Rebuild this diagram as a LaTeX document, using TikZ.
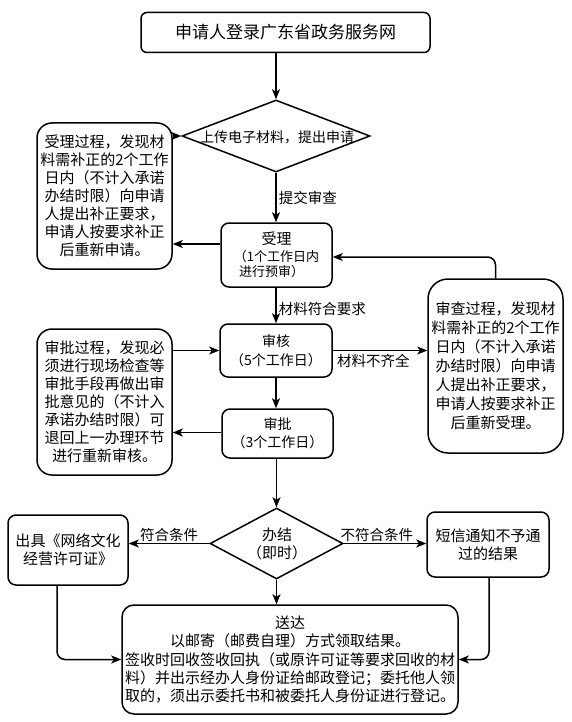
\documentclass[tikz,border=0pt]{standalone}
\usepackage{fontspec}
\setmainfont{Noto Sans CJK SC}
\usetikzlibrary{arrows.meta,shapes.geometric}
\begin{document}
\begin{tikzpicture}[x=1pt,y=-1pt,
  lw/.style={line width=1.5pt},
  box/.style={draw, lw, rounded corners=#1, inner sep=0pt, align=center,
    font=\fontsize{15pt}{18pt}\selectfont},
  box/.default=8pt,
  dia/.style={draw, lw, diamond, inner sep=0pt},
  lbl/.style={font=\fontsize{14.5pt}{17pt}\selectfont, inner sep=2pt},
  arr/.style={lw, -{Stealth[length=10pt,width=8pt,inset=2.5pt]}}]
\useasboundingbox (0,0) rectangle (571,722);

% nodes
\node[box=6pt, minimum width=289pt, minimum height=40pt,
  font=\fontsize{17pt}{20pt}\selectfont] (top) at (285.5,32.5) {申请人登录广东省政务服务网};
\node[dia, minimum width=188pt, minimum height=72pt] (d1) at (276,136) {};
\node[font=\fontsize{14pt}{17pt}\selectfont, inner sep=0pt] (d1t) at (277,137) {上传电子材料，提出申请};

\node[box=15pt, minimum width=135pt, minimum height=146pt] (left1) at (104.5,196)
  {受理过程，发现材\\料需补正的2个工作\\日内（不计入承诺\\办结时限）向申请\\人提出补正要求，\\申请人按要求补正\\后重新申请。};

\node[box, minimum width=111pt, minimum height=64pt] (acc) at (276.5,255)
  {受理\\[-1pt]{\fontsize{13pt}{15pt}\selectfont （1个工作日内}\\[-3pt]{\fontsize{13pt}{15pt}\selectfont 进行预审）\hspace*{10pt}}};

\node[box, minimum width=112pt, minimum height=53pt,
  font=\fontsize{14pt}{19pt}\selectfont] (rev) at (276,350.5) {审核\\（5个工作日）};

\node[box=20pt, minimum width=135pt, minimum height=174pt,
  font=\fontsize{15pt}{19pt}\selectfont] (right1) at (495.5,366)
  {审查过程，发现材\\料需补正的2个工作\\日内（不计入承诺\\办结时限）向申请\\人提出补正要求，\\申请人按要求补正\\后重新受理。};

\node[box=15pt, minimum width=135pt, minimum height=146pt] (left2) at (104.5,402)
  {审批过程，发现必\\须进行现场检查等\\审批手段再做出审\\批意见的（不计入\\承诺办结时限）可\\退回上一办理环节\\进行重新审核。};

\node[box, minimum width=111pt, minimum height=49pt,
  font=\fontsize{14pt}{18pt}\selectfont] (appr) at (277.5,433.5) {审批\\（3个工作日）};

\node[dia, minimum width=133pt, minimum height=71pt] (d2) at (276.5,543.5) {};
\node[font=\fontsize{15pt}{18pt}\selectfont, align=center, inner sep=0pt] (d2t) at (277,544) {办结\\（即时）};

\node[box, minimum width=122pt, minimum height=65pt] (right2) at (488,544.5)
  {短信通知不予通\\过的结果};
\node[box, minimum width=120pt, minimum height=70pt] (left3) at (68,550)
  {出具《网络文化\\经营许可证》};

\node[box=12pt, minimum width=336pt, minimum height=109pt,
  font=\fontsize{15pt}{18.3pt}\selectfont] (bot) at (290,659.5)
  {送达\\以邮寄（邮费自理）方式领取结果。\hspace*{14pt}\\签收时回收签收回执（或原许可证等要求回收的材\\料）并出示经办人身份证给邮政登记；委托他人领\\取的，须出示委托书和被委托人身份证进行登记。};

% connectors
\draw[arr] (d1.north |- top.south) -- (d1.north);
\draw[arr] (d1.west -| left1.east) -- (d1.west);
\draw[arr] (d1.south) -- (d1.south |- acc.north)
  node[lbl, midway, right] {提交审查};
\draw[arr] ([yshift=11pt]acc.west) -- ([yshift=11pt]acc.west -| left1.east);
\draw[arr] (acc.south -| d1.south) -- (rev.north -| d1.south)
  node[lbl, midway, right, yshift=-3pt] {材料符合要求};
\draw[arr] (rev.east) -- (rev.east -| right1.west)
  node[lbl, pos=0.43, below, yshift=-1pt] {材料不齐全};
\draw[arr, rounded corners=8pt] (right1.north) |- ([yshift=-2pt]acc.east);
\draw[arr] (rev.west -| left2.east) -- (rev.west);
\draw[arr] (rev.south -| d1.south) -- (appr.north -| d1.south);
\draw[arr] ([yshift=1pt]appr.west) -- ([yshift=1pt]appr.west -| left2.east);
\draw[arr] (appr.south -| d2.north) -- (d2.north);
\draw[arr] (d2.east) -- (right2.west |- d2.east)
  node[lbl, pos=0.4, above, yshift=-1pt] {不符合条件};
\draw[arr] (d2.west) -- (left3.east |- d2.west)
  node[lbl, midway, above, yshift=-1pt] {符合条件};
\draw[arr] (d2.south) -- (d2.south |- bot.north);
\draw[arr, rounded corners=8pt] ([xshift=-11pt]left3.south) |- (bot.west);
\draw[arr, rounded corners=8pt] ([xshift=1pt]right2.south) |- (bot.east);
\end{tikzpicture}
\end{document}
